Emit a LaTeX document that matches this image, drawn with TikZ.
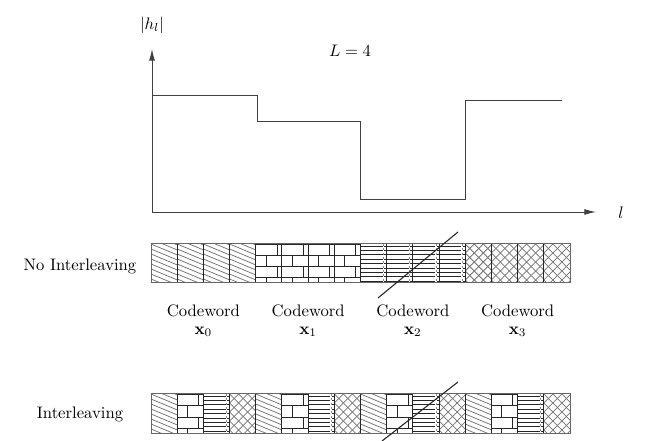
\documentclass[tikz,border=0pt]{standalone}
\usetikzlibrary{arrows.meta}
\def\cw{26.1875}
\tikzset{
  patline/.style={black!55, line width=0.45pt},
  brickline/.style={black!85, line width=0.6pt},
  hline/.style={black!85, line width=0.55pt},
  border/.style={black!85, line width=0.6pt},
  axisline/.style={black!75, line width=0.55pt},
  slashline/.style={black!85, line width=0.65pt},
  lbl/.style={inner sep=1pt, font=\normalsize}
}
\newcommand{\cellA}[2]{%
  \begin{scope}
    \clip (#1,#2) rectangle ++(\cw,39);
    \foreach \k in {-7,...,9} \draw[patline] (#1,#2+5*\k) -- ++(30,12.5);
  \end{scope}}
\newcommand{\cellB}[2]{%
  \begin{scope}
    \clip (#1,#2) rectangle ++(\cw,39);
    \foreach \j in {0,1,2,3} \draw[brickline] (#1,#2+1+11*\j) -- ++(\cw,0);
    \foreach \j in {0,2} \draw[brickline] (#1+21.5,#2+1+11*\j) -- ++(0,11);
    \foreach \j in {1,3} \draw[brickline] (#1+10.5,#2+1+11*\j) -- ++(0,11);
  \end{scope}}
\newcommand{\cellC}[2]{%
  \begin{scope}
    \clip (#1,#2) rectangle ++(\cw,39);
    \foreach \j in {0,...,8} \draw[hline] (#1,#2+2+4.4*\j) -- ++(\cw,0);
    \draw[white, line width=0.9pt] (#1+23,#2) -- ++(0,39);
    \draw[black!45, line width=0.25pt, dash pattern=on 1.2pt off 1.4pt] (#1+23,#2) -- ++(0,39);
  \end{scope}}
\newcommand{\cellD}[2]{%
  \begin{scope}
    \clip (#1,#2) rectangle ++(\cw,39);
    \foreach \k in {-5,...,8} {
      \draw[patline] (#1+9*\k,#2) -- ++(45,45);
      \draw[patline] (#1+9*\k,#2) -- ++(-45,45);
    }
  \end{scope}}
\newcommand{\drawcell}[3]{\ifcase#1 \cellA{#2}{#3}\or\cellB{#2}{#3}\or\cellC{#2}{#3}\or\cellD{#2}{#3}\fi}
\begin{document}
\begin{tikzpicture}[x=0.6pt,y=-0.6pt]
  \useasboundingbox (0,0) rectangle (648,441);
  % axes
  \coordinate (O) at (152,212);
  \coordinate (ytip) at (152,49);
  \coordinate (xtip) at (596,212);
  \draw[axisline, -{Latex[length=7pt,width=3.6pt]}] (O) -- (ytip);
  \draw[axisline, -{Latex[length=7pt,width=3.6pt]}] (O) -- (xtip);
  \node[lbl] (ylab) at (152,25) {$|h_l|$};
  \node[lbl] (xlab) at (621,213) {$l$};
  \node[lbl] (Llab) at (350,51) {$L=4$};
  % step function
  \coordinate (s0) at (152,95);
  \coordinate (s1) at (257,95);
  \coordinate (s2) at (257,121);
  \coordinate (s3) at (360,121);
  \coordinate (s4) at (360,199);
  \coordinate (s5) at (465,199);
  \coordinate (s6) at (465,100);
  \coordinate (s7) at (562,100);
  \draw[axisline] (s0) -- (s1) -- (s2) -- (s3) -- (s4) -- (s5) -- (s6) -- (s7);
  % bars
  \foreach \i in {0,...,15} {
    \pgfmathsetmacro{\xx}{151+\i*\cw}
    \pgfmathtruncatemacro{\tA}{int(\i/4)}
    \pgfmathtruncatemacro{\tB}{mod(\i,4)}
    \drawcell{\tA}{\xx}{244}
    \drawcell{\tB}{\xx}{394}
  }
  \foreach \i in {0,...,16} {
    \pgfmathsetmacro{\xx}{151+\i*\cw}
    \draw[border] (\xx,244) -- ++(0,39);
    \draw[border] (\xx,394) -- ++(0,39);
  }
  \draw[black!60, line width=0.6pt] (151,244) rectangle (570,283);
  \draw[black!60, line width=0.6pt] (151,394) rectangle (570,433);
  % labels
  \node[lbl] (noint) at (80,266) {No Interleaving};
  \node[lbl] (inter) at (80,414) {Interleaving};
  \foreach \i in {0,1,2,3} {
    \pgfmathsetmacro{\xc}{151+(4*\i+2)*\cw}
    \node[lbl] (cw\i) at (\xc,311) {Codeword};
    \node[lbl] (xv\i) at (\xc,332) {$\mathbf{x}_\i$};
  }
  % erasure slashes
  \coordinate (a1) at (378,298);
  \coordinate (b1) at (458,232);
  \coordinate (a2) at (382,441);
  \coordinate (b2) at (458,382);
  \draw[slashline] (a1) -- (b1);
  \draw[slashline] (a2) -- (b2);
\end{tikzpicture}
\end{document}
